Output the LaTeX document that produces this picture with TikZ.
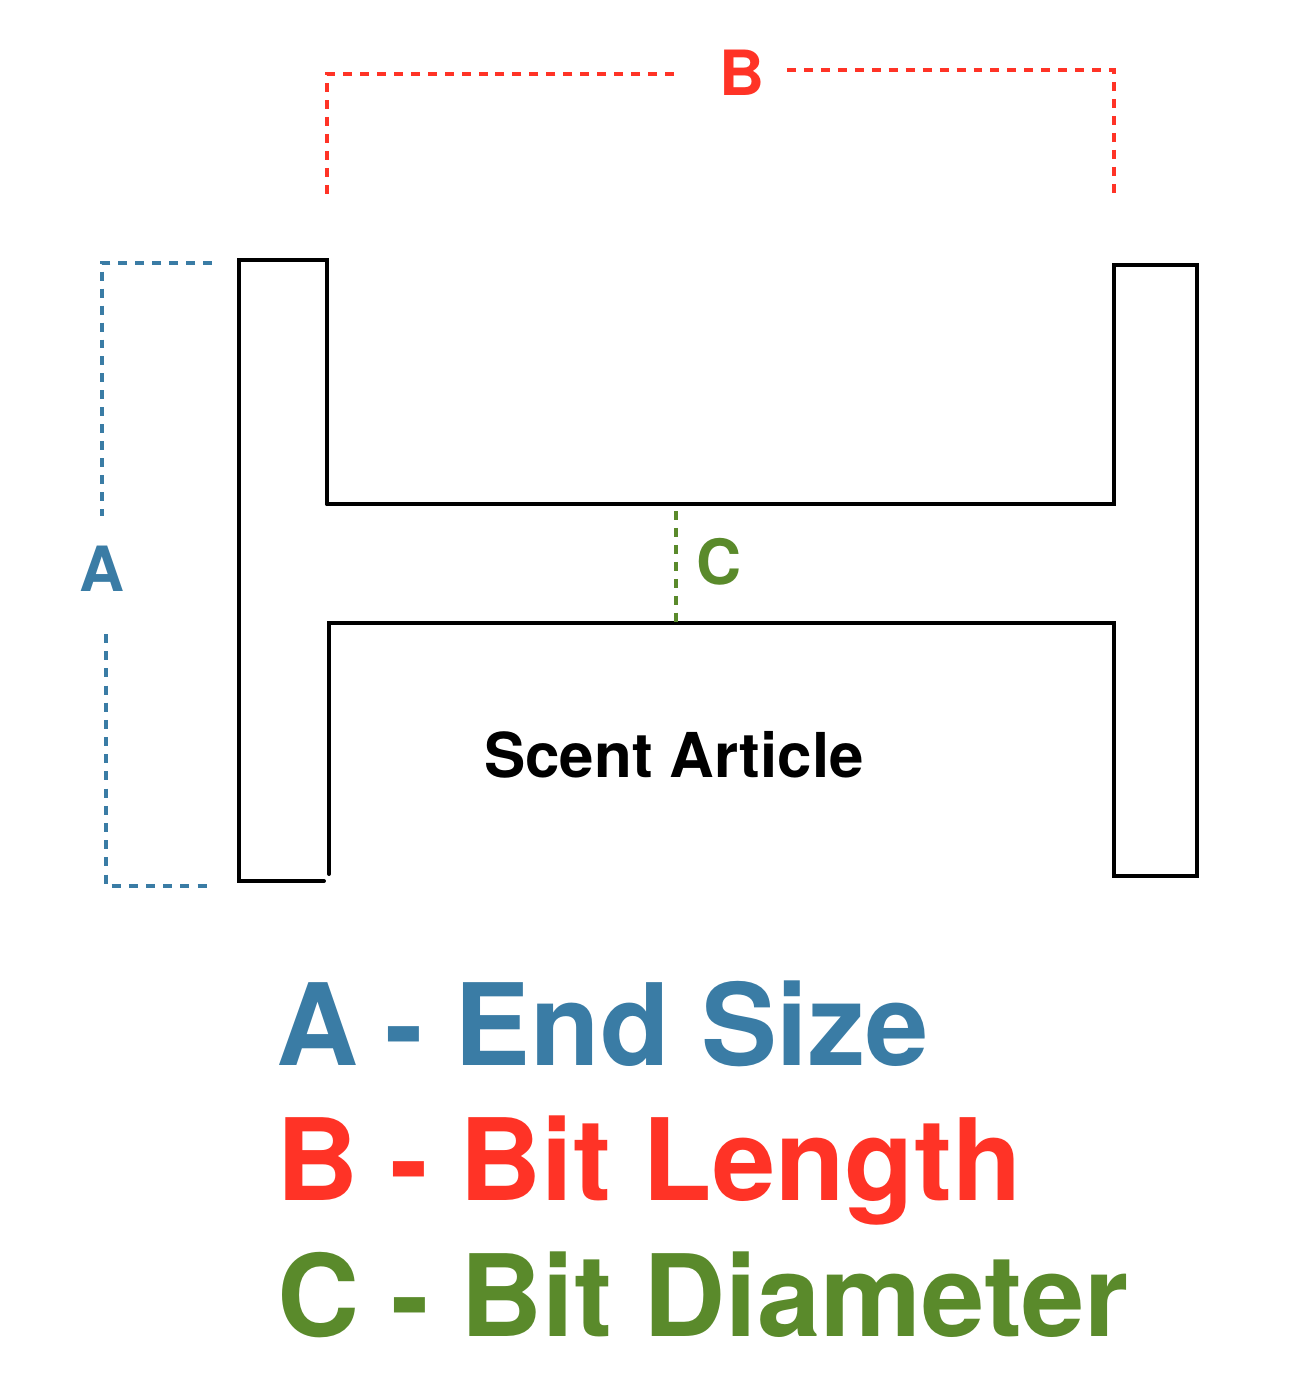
\documentclass[tikz,border=0pt]{standalone}
\usepackage{fontspec}
\setmainfont{TeX Gyre Heros}
\usepackage{xcolor}
\definecolor{endblue}{HTML}{3A7CA5}
\definecolor{bitred}{HTML}{FF3326}
\definecolor{bitgreen}{HTML}{5A8A2B}
\tikzset{
	outline/.style={line width=2.27pt, line cap=round},
	measure/.style={line width=2.27pt, dash pattern=on 5.1pt off 4.55pt},
	letter/.style={font=\fontsize{35.5}{40}\selectfont\bfseries},
	legend/.style={font=\fontsize{64.7}{70}\selectfont\bfseries, anchor=base west, inner sep=0pt}
}
\begin{document}
\begin{tikzpicture}[x=0.02cm,y=-0.02cm]
	\useasboundingbox (0,0) rectangle (1314,1390);
	\draw[outline] (327,504) -- (327,260) -- (239,260) -- (239,881) -- (324,881);
	\draw[outline] (329,874) -- (329,623) -- (1114,623) -- (1114,876) -- (1197,876) -- (1197,265) -- (1114,265) -- (1114,504) -- (327,504);
	\draw[measure, bitred] (674,74) -- (327,74) -- (327,195);
	\draw[measure, bitred] (787,70) -- (1114,70) -- (1114,195);
	\draw[measure, endblue] (212,263) -- (102,263) -- (102,516);
	\draw[measure, endblue, dash pattern=on 5.1pt off 4.68pt] (106,634) -- (106,886) -- (208,886);
	\draw[measure, bitgreen] (676,511) -- (676,622);
	\node[letter, text=bitred] (labelb) at (742,73) {B};
	\node[letter, text=endblue] (labela) at (102,569) {A};
	\node[letter, text=bitgreen] (labelc) at (719,562) {C};
	\node[font=\fontsize{35.2}{40}\selectfont\bfseries] (article) at (674,755) {Scent Article};
	\node[legend, text=endblue] (legenda) at (276,1065) {A\kern-2.6pt{} - End Size};
	\node[legend, text=bitred] (legendb) at (276,1200) {B - Bit Length};
	\node[legend, text=bitgreen] (legendc) at (277,1336) {C - Bit Diameter};
\end{tikzpicture}
\end{document}
